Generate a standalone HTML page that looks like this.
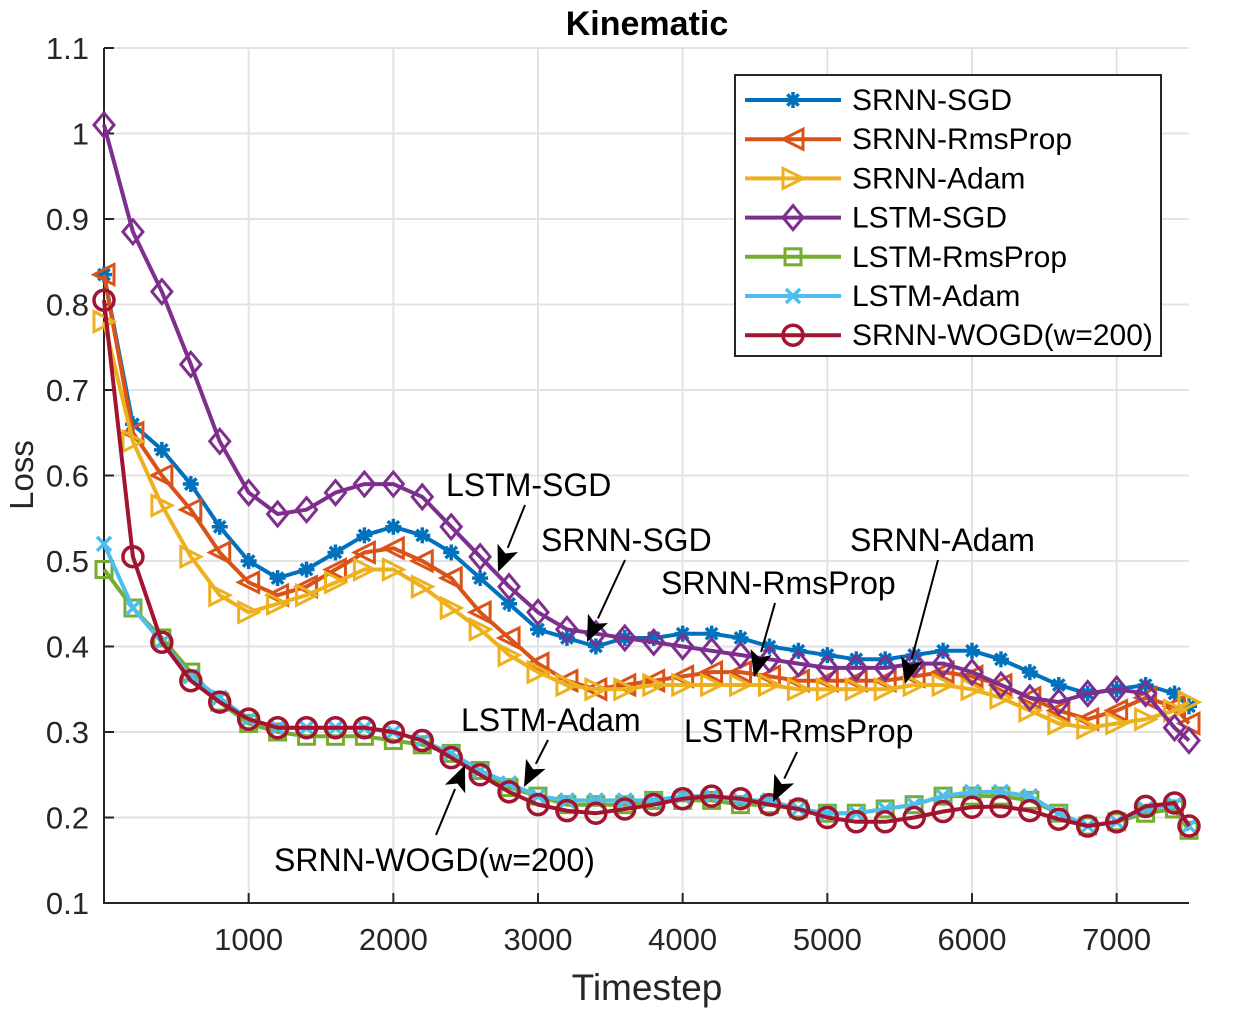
<!DOCTYPE html>
<html><head><meta charset="utf-8"><style>
html,body{margin:0;padding:0;background:#fff}
svg text{font-family:"Liberation Sans",Arial,sans-serif}
</style></head><body>
<svg id="chart" width="1238" height="1011" viewBox="0 0 1238 1011" xmlns="http://www.w3.org/2000/svg">
<rect x="0" y="0" width="1238" height="1011" fill="#fff"/>
<g id="grid"></g>
<g id="axes"></g>
<g id="series"></g>
<g id="annot"></g>
<g id="legend"></g>
<text x="647" y="35" font-size="34" font-weight="bold" text-anchor="middle">Kinematic</text>
<text x="647" y="1000" font-size="37" text-anchor="middle" fill="#262626">Timestep</text>
<text x="0" y="0" font-size="33" text-anchor="middle" fill="#262626" transform="translate(33,475) rotate(-90)">Loss</text>
</svg>
<script>
const timesteps=[0,200,400,600,800,1000,1200,1400,1600,1800,2000,2200,2400,2600,2800,3000,3200,3400,3600,3800,4000,4200,4400,4600,4800,5000,5200,5400,5600,5800,6000,6200,6400,6600,6800,7000,7200,7400,7500];
const srnnSgd=[0.835,0.66,0.63,0.59,0.54,0.50,0.48,0.49,0.51,0.53,0.54,0.53,0.51,0.48,0.45,0.42,0.41,0.40,0.41,0.41,0.415,0.415,0.41,0.40,0.395,0.39,0.385,0.385,0.39,0.395,0.395,0.385,0.37,0.355,0.345,0.35,0.355,0.345,0.33];
const srnnRms=[0.835,0.65,0.60,0.56,0.51,0.475,0.46,0.47,0.49,0.51,0.515,0.50,0.48,0.44,0.41,0.38,0.36,0.35,0.355,0.36,0.365,0.37,0.37,0.365,0.36,0.36,0.36,0.36,0.365,0.37,0.365,0.355,0.34,0.325,0.315,0.325,0.34,0.33,0.31];
const srnnAdam=[0.78,0.64,0.565,0.505,0.46,0.44,0.45,0.46,0.475,0.49,0.49,0.47,0.445,0.42,0.39,0.37,0.355,0.35,0.35,0.355,0.355,0.355,0.355,0.355,0.35,0.35,0.35,0.35,0.355,0.355,0.35,0.34,0.325,0.31,0.305,0.31,0.315,0.325,0.335];
const lstmSgd=[1.01,0.885,0.815,0.73,0.64,0.58,0.555,0.56,0.58,0.59,0.59,0.575,0.54,0.505,0.47,0.44,0.42,0.415,0.41,0.405,0.40,0.395,0.39,0.385,0.38,0.375,0.375,0.375,0.38,0.38,0.37,0.355,0.34,0.335,0.345,0.35,0.345,0.305,0.29];
const lstmRms=[0.49,0.445,0.41,0.37,0.335,0.31,0.30,0.295,0.295,0.295,0.29,0.285,0.275,0.255,0.235,0.225,0.215,0.215,0.215,0.22,0.22,0.22,0.215,0.215,0.21,0.205,0.205,0.21,0.215,0.225,0.225,0.225,0.22,0.205,0.19,0.195,0.205,0.21,0.185];
const lstmAdam=[0.52,0.445,0.405,0.365,0.34,0.315,0.305,0.305,0.305,0.305,0.30,0.29,0.275,0.255,0.24,0.225,0.22,0.22,0.22,0.22,0.225,0.225,0.22,0.22,0.21,0.205,0.205,0.21,0.215,0.225,0.23,0.23,0.225,0.205,0.19,0.195,0.21,0.215,0.19];
const srnnWogd=[0.805,0.505,0.405,0.36,0.335,0.315,0.305,0.305,0.305,0.305,0.30,0.29,0.27,0.25,0.23,0.215,0.208,0.205,0.21,0.215,0.222,0.225,0.222,0.215,0.21,0.20,0.195,0.195,0.20,0.207,0.212,0.213,0.208,0.198,0.19,0.195,0.213,0.217,0.19];
const seriesNames=["SRNN-SGD","SRNN-RmsProp","SRNN-Adam","LSTM-SGD","LSTM-RmsProp","LSTM-Adam","SRNN-WOGD(w=200)"];
const xTicks=[1000,2000,3000,4000,5000,6000,7000];
const yTicks=[0.1,0.2,0.3,0.4,0.5,0.6,0.7,0.8,0.9,1,1.1];
const yTickLabels=["0.1","0.2","0.3","0.4","0.5","0.6","0.7","0.8","0.9","1","1.1"];

const NS="http://www.w3.org/2000/svg";
const X0=104,X1=1189,Y0=903,Y1=48;
function sx(v){return X0+(v-0)/(7500-0)*(X1-X0);}
function sy(v){return Y0-(v-0.1)/(1.1-0.1)*(Y0-Y1);}
function mk(tag,attrs,parent){const e=document.createElementNS(NS,tag);for(const k in attrs)e.setAttribute(k,attrs[k]);parent.appendChild(e);return e;}
const grid=document.getElementById('grid'),axes=document.getElementById('axes'),ser=document.getElementById('series'),ann=document.getElementById('annot'),leg=document.getElementById('legend');

xTicks.forEach(t=>{
  const l=mk('line',{x1:sx(t),x2:sx(t),y1:Y1,y2:Y0,stroke:'#e3e3e3','stroke-width':2},grid);
  
  
  const tk=mk('line',{x1:sx(t),x2:sx(t),y1:Y0,y2:Y0-10,stroke:'#262626','stroke-width':2},axes);
  
  
  const tx=mk('text',{x:sx(t),y:950,'font-size':31,'text-anchor':'middle',fill:'#262626'},axes);
  tx.textContent=String(t);
  
  
});
yTicks.forEach((t,i)=>{
  const l=mk('line',{x1:X0,x2:X1,y1:sy(t),y2:sy(t),stroke:'#e3e3e3','stroke-width':2},grid);
  
  
  const tk=mk('line',{x1:X0,x2:X0+10,y1:sy(t),y2:sy(t),stroke:'#262626','stroke-width':2},axes);
  
  
  const tx=mk('text',{x:89,y:sy(t)+11,'font-size':31,'text-anchor':'end',fill:'#262626'},axes);
  tx.textContent=yTickLabels[i];
  
  
});
const ax=mk('path',{d:`M${X0},${Y1}V${Y0}H${X1}`,fill:'none',stroke:'#262626','stroke-width':2},axes);



function marker(type,x,y,color,parent){
  const r=10,sw=3;let e;
  if(type==='star'){
    e=mk('g',{stroke:color,'stroke-width':3.5},parent);
    for(let a=0;a<4;a++){const an=a*Math.PI/4;mk('line',{x1:x-8*Math.cos(an),y1:y-8*Math.sin(an),x2:x+8*Math.cos(an),y2:y+8*Math.sin(an)},e);}
  }else if(type==='ltri'){
    e=mk('polygon',{points:`${x-r},${y} ${x+r},${y-r} ${x+r},${y+r}`,fill:'none',stroke:color,'stroke-width':sw},parent);
  }else if(type==='rtri'){
    e=mk('polygon',{points:`${x+r},${y} ${x-r},${y-r} ${x-r},${y+r}`,fill:'none',stroke:color,'stroke-width':sw},parent);
  }else if(type==='diamond'){
    e=mk('polygon',{points:`${x},${y-12} ${x+10},${y} ${x},${y+12} ${x-10},${y}`,fill:'none',stroke:color,'stroke-width':sw},parent);
  }else if(type==='square'){
    e=mk('rect',{x:x-8,y:y-8,width:16,height:16,fill:'none',stroke:color,'stroke-width':sw},parent);
  }else if(type==='x'){
    e=mk('path',{d:`M${x-7},${y-7}L${x+7},${y+7}M${x-7},${y+7}L${x+7},${y-7}`,stroke:color,'stroke-width':3.5},parent);
  }else{
    e=mk('circle',{cx:x,cy:y,r:10,fill:'none',stroke:color,'stroke-width':3.5},parent);
  }
  return e;
}
const datasets=[srnnSgd,srnnRms,srnnAdam,lstmSgd,lstmRms,lstmAdam,srnnWogd];
const colors=['#0072bd','#d95319','#edb120','#7e2f8e','#77ac30','#4dbeee','#a2142f'];
const markers=['star','ltri','rtri','diamond','square','x','circle'];
datasets.forEach((vals,si)=>{
  const g=mk('g',{},ser);
  
  
  const pts=vals.map((v,i)=>`${sx(timesteps[i]).toFixed(1)},${sy(v).toFixed(1)}`).join(' ');
  const pl=mk('polyline',{points:pts,fill:'none',stroke:colors[si],'stroke-width':4,'stroke-linejoin':'round'},g);
  
  
  vals.forEach((v,i)=>{
    const m=marker(markers[si],sx(timesteps[i]),sy(v),colors[si],g);
    
    
  });
});

const annTexts=["LSTM-SGD","SRNN-SGD","SRNN-RmsProp","SRNN-Adam","LSTM-Adam","LSTM-RmsProp","SRNN-WOGD(w=200)"];
const annPos=[[446,496],[541,551],[661,594],[850,551],[461,731],[684,742],[274,871]];
const annArrows=[[525,505,498,572],[625,560,587,642],[775,603,754,677],[938,560,905,684],[548,740,524,787],[797,752,773,802],[436,835,465,765]];
annTexts.forEach((t,i)=>{
  const tx=mk('text',{x:annPos[i][0],y:annPos[i][1],'font-size':32,fill:'#000'},ann);
  tx.textContent=t;
  
  
  const [x1,y1,x2,y2]=annArrows[i];
  const dx=x2-x1,dy=y2-y1,L=Math.hypot(dx,dy),ux=dx/L,uy=dy/L,h=26,w=11;
  const bx=x2-ux*h,by=y2-uy*h;
  const g=mk('g',{},ann);
  
  
  mk('line',{x1:x1,y1:y1,x2:bx,y2:by,stroke:'#000','stroke-width':2},g);
  mk('polygon',{points:`${x2},${y2} ${bx-uy*w},${by+ux*w} ${bx+ux*6},${by+uy*6} ${bx+uy*w},${by-ux*w}`,fill:'#000'},g);
});

const lb=mk('rect',{x:735,y:75,width:426,height:281,fill:'#fff',stroke:'#262626','stroke-width':2},leg);


seriesNames.forEach((n,i)=>{
  const y=100+i*39.2;
  const g=mk('g',{},leg);
  
  
  mk('line',{x1:745,x2:841,y1:y,y2:y,stroke:colors[i],'stroke-width':4},g);
  marker(markers[i],793,y,colors[i],g);
  const tx=mk('text',{x:852,y:y+10,'font-size':30,fill:'#000'},g);
  tx.textContent=n;
});
</script>
</body></html>
